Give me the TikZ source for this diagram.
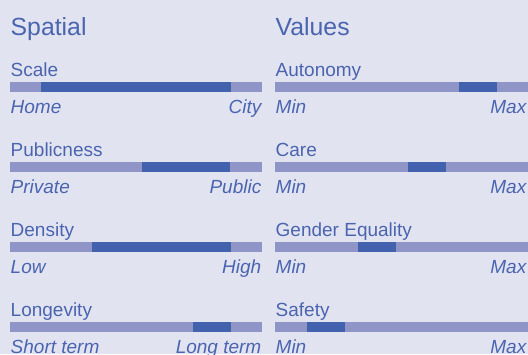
\documentclass[tikz,border=0pt]{standalone}
\usepackage{fontspec}
\setmainfont{Liberation Sans}
\usetikzlibrary{positioning}
\definecolor{bgcol}{HTML}{E1E3F0}
\definecolor{barlight}{HTML}{8F95C7}
\definecolor{bardark}{HTML}{4262AE}
\definecolor{inkblue}{HTML}{4A64B0}

\begin{document}
\begin{tikzpicture}[x=1pt,y=-1pt]
\tikzstyle{headline}=[anchor=base west,inner sep=0pt,text=inkblue,font=\fontsize{24.8}{30}\selectfont]
\tikzstyle{barname}=[anchor=base west,inner sep=0pt,text=inkblue,font=\fontsize{19}{22}\selectfont]
\tikzstyle{endleft}=[anchor=base west,inner sep=0pt,text=inkblue,font=\fontsize{19}{22}\selectfont\itshape]
\tikzstyle{endright}=[anchor=base east,inner sep=0pt,text=inkblue,font=\fontsize{19}{22}\selectfont\itshape]
\tikzstyle{track}=[fill=barlight]
\tikzstyle{fillpart}=[fill=bardark]
\fill[bgcol] (0,0) rectangle (528,354);
\useasboundingbox (0,0) rectangle (528,354);
\node[headline] (spatial) at (10.5,35) {Spatial};
\node[headline] (values) at (275.5,35) {Values};
% left column
\foreach \name/\lo/\hi/\a/\b [count=\i] in {Scale/Home/City/41/231, Publicness/Private/Public/142/230,
    Density/Low/High/92/231, Longevity/Short term/Long term/193/231}{
  \pgfmathsetmacro\yb{2+80*\i}
  \fill[track] (10,\yb) rectangle (262,\yb+10);
  \fill[fillpart] (\a,\yb) rectangle (\b,\yb+10);
  \node[barname] (sp-name-\i) at (10.5,\yb-6) {\name};
  \node[endleft] (sp-lo-\i) at (10.5,\yb+31) {\lo};
  \node[endright] (sp-hi-\i) at (261.5,\yb+31) {\hi};
}
% right column
\foreach \name/\a/\b [count=\i] in {Autonomy/459/497, Care/408/446,
    Gender Equality/358/396, Safety/307/345}{
  \pgfmathsetmacro\yb{2+80*\i}
  \fill[track] (275,\yb) rectangle (528,\yb+10);
  \fill[fillpart] (\a,\yb) rectangle (\b,\yb+10);
  \node[barname] (va-name-\i) at (275.5,\yb-6) {\name};
  \node[endleft] (va-lo-\i) at (275.5,\yb+31) {Min};
  \node[endright] (va-hi-\i) at (526.5,\yb+31) {Max};
}
\end{tikzpicture}
\end{document}
